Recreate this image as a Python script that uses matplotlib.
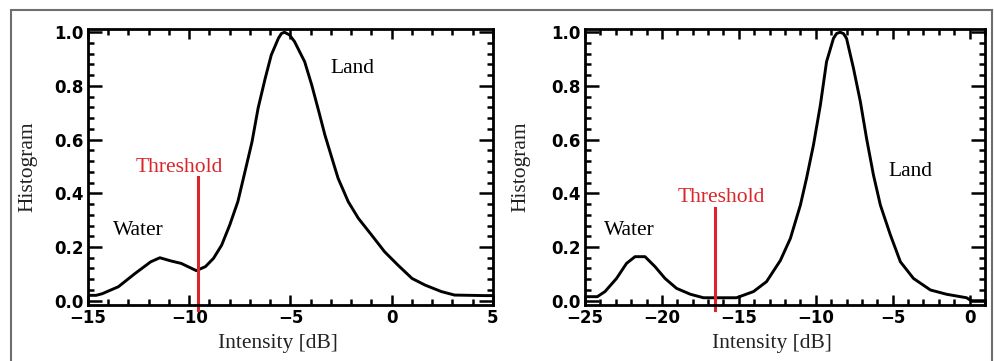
import matplotlib
matplotlib.use("Agg")
import matplotlib.pyplot as plt
from matplotlib.patches import Rectangle
from matplotlib.ticker import MultipleLocator, FormatStrFormatter

# left panel: histogram of intensity (dB)
left_x = [-15.0, -14.6, -14.3, -13.5, -12.7, -11.9, -11.45, -10.9, -10.4, -9.65, -9.2,
          -8.8, -8.4, -8.0, -7.6, -7.25, -6.9, -6.6, -6.25, -5.95, -5.6, -5.45, -5.3,
          -5.05, -4.8, -4.3, -3.95, -3.6, -3.3, -2.95, -2.65, -2.15, -1.65, -1.0, -0.35,
          0.3, 1.0, 1.65, 2.45, 3.1, 4.6, 5.0]
left_y = [0.02, 0.02, 0.026, 0.052, 0.10, 0.145, 0.16, 0.148, 0.139, 0.112, 0.127,
          0.158, 0.207, 0.282, 0.369, 0.48, 0.592, 0.717, 0.828, 0.915, 0.977, 0.995, 1.0,
          0.99, 0.965, 0.89, 0.803, 0.704, 0.617, 0.53, 0.456, 0.369, 0.307, 0.245, 0.182,
          0.133, 0.083, 0.058, 0.034, 0.021, 0.019, 0.019]
left_threshold = -9.55

# right panel
right_x = [-25.0, -24.2, -23.7, -22.95, -22.3, -21.75, -21.1, -20.45, -19.8, -19.05,
           -18.15, -17.3, -15.15, -14.05, -13.2, -12.3, -11.65, -11.0, -10.6, -10.15,
           -9.7, -9.3, -8.85, -8.65, -8.42, -8.2, -8.0, -7.55, -7.1, -6.7, -6.25, -5.8,
           -5.15, -4.5, -3.65, -2.55, -1.5, -0.2, 0.1, 1.0]
right_y = [0.015, 0.015, 0.034, 0.083, 0.139, 0.164, 0.164, 0.127, 0.083, 0.046,
           0.024, 0.011, 0.011, 0.034, 0.071, 0.15, 0.232, 0.356, 0.456, 0.58,
           0.729, 0.89, 0.977, 0.995, 1.0, 0.995, 0.977, 0.866, 0.741, 0.605, 0.468, 0.356,
           0.245, 0.145, 0.083, 0.04, 0.024, 0.011, 0.0, 0.0]
right_threshold = -16.55

RED = "#d8262b"
SERIF = ["Liberation Serif", "DejaVu Serif"]
TXT = 15.5

fig = plt.figure(figsize=(9.95, 3.61), dpi=100)
fig.patch.set_facecolor("white")

# grey frame round the figure (open at the bottom)
fig.add_artist(Rectangle((11 / 995, -0.1), (992 - 11) / 995, (1 - 10 / 361) + 0.1,
                         transform=fig.transFigure, fill=False,
                         edgecolor="#6e6e6e", linewidth=1.5))

ax1 = fig.add_axes([88 / 995, 1 - 305 / 361, 405 / 995, 276 / 361])
ax2 = fig.add_axes([585 / 995, 1 - 305 / 361, 400 / 995, 276 / 361])


def style_axis(ax, xlim, label_x, ylab_x):
    ax.set_xlim(*xlim)
    ax.set_ylim(-0.016, 1.012)
    ax.xaxis.set_major_locator(MultipleLocator(5))
    ax.xaxis.set_minor_locator(MultipleLocator(1))
    ax.yaxis.set_major_locator(MultipleLocator(0.2))
    ax.yaxis.set_minor_locator(MultipleLocator(0.04))
    ax.yaxis.set_major_formatter(FormatStrFormatter("%.1f"))
    ax.tick_params(which="both", direction="in", top=True, right=True, width=1.8,
                   labelsize=12, colors="black")
    ax.tick_params(axis="x", which="major", length=7, pad=3)
    ax.tick_params(axis="y", which="major", length=10, pad=3)
    ax.tick_params(which="minor", length=4)
    for lab in ax.get_xticklabels() + ax.get_yticklabels():
        lab.set_fontweight("bold")
    for sp in ax.spines.values():
        sp.set_linewidth(2)
    ax.set_xlabel("Intensity [dB]", family=SERIF, fontsize=TXT, color="#222222")
    ax.xaxis.set_label_coords(label_x, -0.105)
    ax.set_ylabel("Histogram", family=SERIF, fontsize=TXT, color="#222222")
    ax.yaxis.set_label_coords(ylab_x, 0.5)


ax1.plot(left_x, left_y, color="black", linewidth=2.1)
ax1.plot([left_threshold, left_threshold], [-0.035, 0.46], color=RED, linewidth=2.2,
         clip_on=False)
ax1.text(-10.5, 0.48, "Threshold", color=RED, family=SERIF, fontsize=TXT,
         ha="center", va="baseline")
ax1.text(-12.5, 0.263, "Water", family=SERIF, fontsize=TXT, ha="center", va="center")
ax1.text(-1.94, 0.866, "Land", family=SERIF, fontsize=TXT, ha="center", va="center")
style_axis(ax1, (-15, 5), 0.47, -0.126)

ax2.plot(right_x, right_y, color="black", linewidth=2.1)
ax2.plot([right_threshold, right_threshold], [-0.035, 0.344], color=RED, linewidth=2.2,
         clip_on=False)
ax2.text(-16.16, 0.369, "Threshold", color=RED, family=SERIF, fontsize=TXT,
         ha="center", va="baseline")
ax2.text(-22.14, 0.263, "Water", family=SERIF, fontsize=TXT, ha="center", va="center")
ax2.text(-3.87, 0.48, "Land", family=SERIF, fontsize=TXT, ha="center", va="center")
style_axis(ax2, (-25, 1), 0.4675, -0.1375)

fig.savefig("out.png", dpi=100)
